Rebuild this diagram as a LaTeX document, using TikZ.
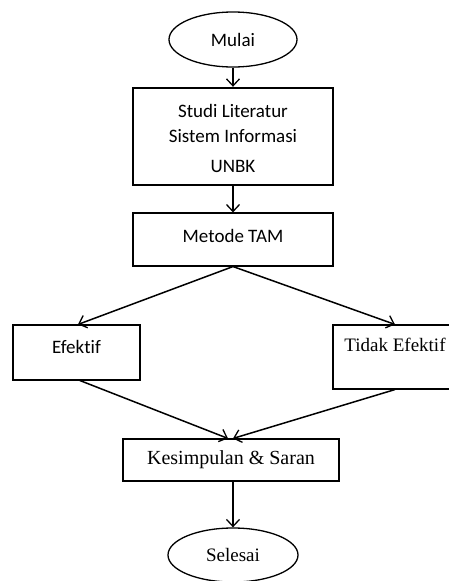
\documentclass[tikz,border=0pt]{standalone}
\usepackage{fontspec}
\setmainfont{Carlito}[Ligatures={NoCommon,NoRequired,NoContextual}]
\newfontfamily\timesf{Liberation Serif}
\usetikzlibrary{arrows.meta,shapes.geometric}
\begin{document}
\begin{tikzpicture}[x=1pt,y=-1pt,
  box/.style={draw, rectangle, line width=1.1pt, inner sep=0pt},
  term/.style={draw, ellipse, line width=1.3pt, inner sep=0pt},
  arr/.style={-{Straight Barb[length=7pt,width=13pt,line width=1.3pt]}, line width=1.5pt},
  cal/.style={font=\fontsize{19}{25}\selectfont},
  tim/.style={font=\timesf\fontsize{19}{23}\selectfont}]
\useasboundingbox (0,0) rectangle (448,581);
\node[term, cal, minimum width=128pt, minimum height=55pt] (mulai) at (233,39.5) {Mulai};
\node[box, cal, line width=2.4pt, minimum width=200pt, text height=84pt, text depth=13pt, align=center] (studi) at (233,136.5) {Studi Literatur\\Sistem Informasi\\[5pt]UNBK};
\node[box, cal, minimum width=200pt, text height=29pt, text depth=24pt] (metode) at (233,239.5) {Metode TAM};
\node[box, cal, minimum width=127pt, text height=28pt, text depth=27pt] (efektif) at (76.5,352.5) {Efek\kern0pt tif};
\node[box, tim, minimum width=124pt, text height=26pt, text depth=38pt] (tidak) at (395,357) {Tidak Efektif};
\node[box, tim, font=\timesf\fontsize{20}{24}\selectfont, minimum width=216pt, minimum height=42pt] (kes) at (231,460) {Kesimpulan \& Saran};
\node[term, tim, minimum width=130pt, minimum height=54pt] (selesai) at (233,555) {Selesai};
\draw[arr] (mulai.south) -- (studi.north);
\draw[arr] (studi.south) -- (metode.north);
\draw[arr] (metode.south) -- ([xshift=1.5pt]efektif.north);
\draw[arr] (metode.south) -- (tidak.north);
\draw[arr] ([xshift=3.5pt]efektif.south) -- ([xshift=-3pt]kes.north);
\draw[arr] (tidak.south) -- ([xshift=2pt]kes.north);
\draw[arr] ([xshift=2pt]kes.south) -- (selesai.north);
\end{tikzpicture}
\end{document}
